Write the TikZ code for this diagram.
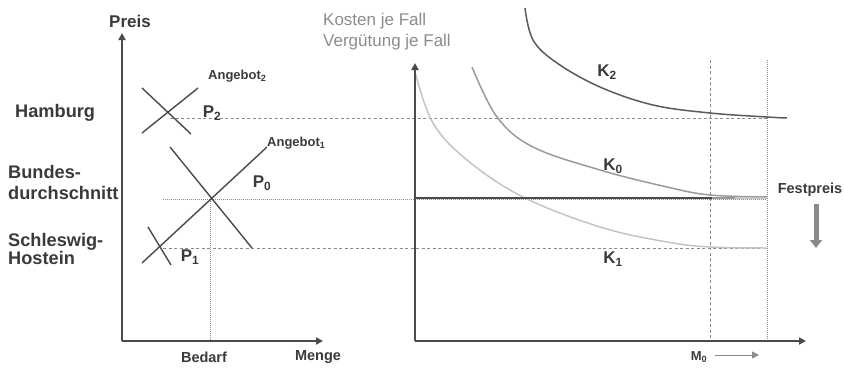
\documentclass[tikz,border=0pt]{standalone}
\usepackage{fontspec}
\setmainfont{Liberation Sans}
\usetikzlibrary{arrows.meta}
\definecolor{axisc}{HTML}{4A4A4A}
\definecolor{txtc}{HTML}{3A3A3A}
\definecolor{lightc}{HTML}{8C8C8C}
\definecolor{kzero}{HTML}{9A9A9A}
\definecolor{kone}{HTML}{C4C4C4}
\definecolor{ktwo}{HTML}{5A5A5A}
\definecolor{guide}{HTML}{8A8A8A}
\tikzset{
  axisline/.style={draw=axisc, line width=1.8pt, -{Triangle[length=7pt,width=7pt]}},
  crossline/.style={draw=axisc, line width=1.4pt},
  guidedash/.style={draw=guide, line width=0.7pt, dash pattern=on 3pt off 2.5pt},
  guidedot/.style={draw=guide, line width=0.7pt, dash pattern=on 1pt off 1pt},
  biglabel/.style={font=\bfseries\fontsize{17}{20}\selectfont, text=txtc, inner sep=0pt},
  sidelabel/.style={font=\bfseries\fontsize{18.2}{21}\selectfont, text=txtc, inner sep=0pt, anchor=west, align=left},
  midlabel/.style={font=\bfseries\fontsize{14.5}{17}\selectfont, text=txtc, inner sep=0pt},
  smalllabel/.style={font=\bfseries\fontsize{13}{15}\selectfont, text=txtc, inner sep=0pt},
  greylabel/.style={font=\fontsize{17}{21}\selectfont, text=lightc, inner sep=0pt, align=left},
}
\begin{document}
\begin{tikzpicture}[x=1pt,y=-1pt]
\useasboundingbox (0,0) rectangle (844,368);
% ---------- left chart ----------
\coordinate (LO) at (122,341);
\coordinate (LY) at (122,33);
\coordinate (LX) at (323,341);
% guide lines
\coordinate (H1) at (170,118);  \coordinate (H2) at (767,118);
\coordinate (B1) at (163,199);  \coordinate (B2) at (767,199);
\coordinate (S1) at (163,248);  \coordinate (S2) at (767,248);
\coordinate (V1) at (210,199);  \coordinate (V2) at (210,341);
\draw[guidedash] (H1) -- (H2);
\draw[guidedot] (B1) -- (B2);
\draw[guidedash] (S1) -- (S2);
\draw[guidedot] (V1) -- (V2);
% crosses
\coordinate (a2s) at (142,133); \coordinate (a2e) at (198,88);
\coordinate (d2s) at (142,88);  \coordinate (d2e) at (191,134);
\draw[crossline] (a2s) -- (a2e);
\draw[crossline] (d2s) -- (d2e);
\coordinate (a1s) at (142,263); \coordinate (a1e) at (267,147);
\coordinate (d1s) at (170,147); \coordinate (d1e) at (252,248);
\draw[crossline] (a1s) -- (a1e);
\draw[crossline] (d1s) -- (d1e);
\coordinate (d3s) at (148,227); \coordinate (d3e) at (171,265);
\draw[crossline] (d3s) -- (d3e);
% axes
\draw[axisline] (LO) -- (LY);
\draw[axisline] (LO) -- (LX);
% labels
\node[biglabel] (preis) at (130,21) {Preis};
\node[midlabel] (bedarf) at (204,357) {Bedarf};
\node[midlabel] (menge) at (318,357) {Menge};
\node[sidelabel] (hamburg) at (15,113) {Hamburg};
\node[sidelabel] (bund) at (8,182.5) {Bundes-\\durchschnitt};
\node[sidelabel, font=\bfseries\fontsize{18.2}{18.5}\selectfont] (schl) at (8,249) {Schleswig-\\Hostein};
\node[smalllabel, anchor=west] (ang2) at (208,76) {Angebot\textsubscript{2}};
\node[smalllabel, anchor=west] (ang1) at (267,143) {Angebot\textsubscript{1}};
\node[biglabel] (p2) at (212,113) {P\textsubscript{2}};
\node[biglabel] (p0) at (262,183) {P\textsubscript{0}};
\node[biglabel] (p1) at (190,257) {P\textsubscript{1}};
% ---------- right chart ----------
\coordinate (RO) at (415,341);
\coordinate (RY) at (415,63);
\coordinate (RX) at (806,341);
\coordinate (m1) at (710,60); \coordinate (m2) at (710,341);
\coordinate (n1) at (767,60); \coordinate (n2) at (767,341);
\draw[guidedash] (m1) -- (m2);
\draw[guidedot] (n1) -- (n2);
% cost curves
\draw[kone, line width=1.5pt] plot[smooth, tension=0.6] coordinates {(415,72) (433,123) (467,160) (523,197) (600,227) (667,242) (710,247) (767,248)};
\draw[kzero, line width=1.5pt] plot[smooth, tension=0.6] coordinates {(472,67) (497,117) (533,147) (600,170) (667,187) (710,195) (767,197)};
\draw[ktwo, line width=1.5pt] plot[smooth, tension=0.6] coordinates {(525,8) (533,40) (557,63) (600,87) (653,105) (710,113) (767,117) (787,118)};
% fixed price line
\coordinate (f1) at (415,198); \coordinate (f2) at (712,198);
\coordinate (f3) at (735,198); \coordinate (f4) at (767,198);
\draw[axisc, line width=2pt] (f1) -- (f2);
\draw[kzero, line width=2pt] (f2) -- (f3);
\draw[kone, line width=2pt] (f3) -- (f4);
% axes
\draw[axisline] (RO) -- (RY);
\draw[axisline] (RO) -- (RX);
% labels
\node[greylabel, anchor=north west] (kosten) at (323,13) {Kosten je Fall\\Vergütung je Fall};
\node[biglabel] (k2) at (607,72) {K\textsubscript{2}};
\node[biglabel] (k0) at (613,166) {K\textsubscript{0}};
\node[biglabel] (k1) at (613,259) {K\textsubscript{1}};
\node[font=\bfseries\fontsize{14.5}{17}\selectfont, text=txtc, inner sep=0pt] (fest) at (810,190) {Festpreis};
\coordinate (da1) at (816,204); \coordinate (da2) at (816,248);
\draw[draw=guide, line width=5pt, -{Triangle[length=8pt,width=12pt]}] (da1) -- (da2);
\node[font=\bfseries\fontsize{13}{15}\selectfont, text=txtc, inner sep=0pt] (m0) at (699,357) {M\textsubscript{0}};
\coordinate (ma1) at (715,355); \coordinate (ma2) at (759,355);
\draw[draw=guide, line width=0.8pt, -{Triangle[length=7pt,width=7pt]}] (ma1) -- (ma2);
\end{tikzpicture}
\end{document}
